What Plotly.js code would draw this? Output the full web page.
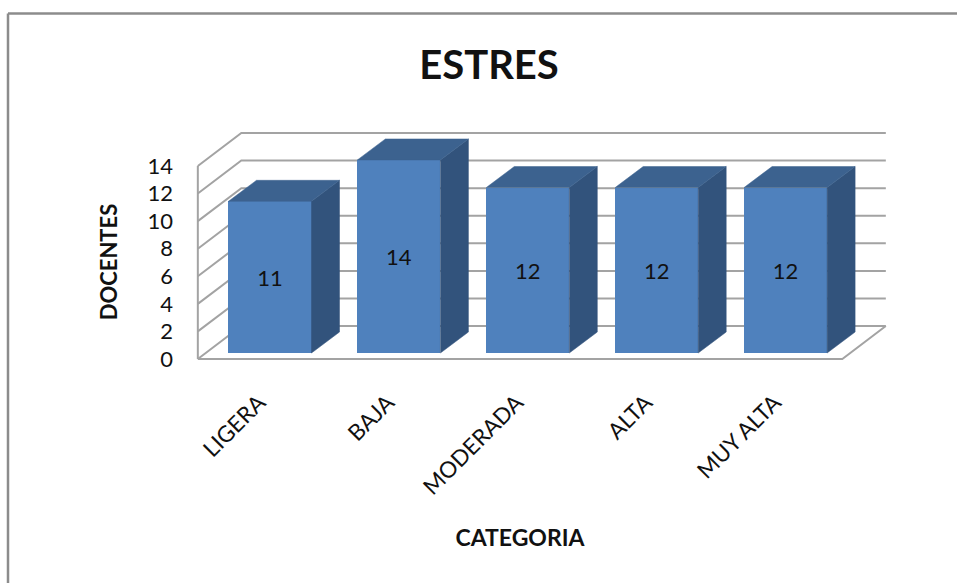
<!DOCTYPE html>
<html>
<head>
<meta charset="utf-8">
<script src="https://cdn.plot.ly/plotly-3.0.1.min.js"></script>
<style>html,body{margin:0;padding:0;background:#fff}#c{width:957px;height:583px}</style>
</head>
<body>
<div id="c"></div>
<script>
const categories = ["LIGERA","BAJA","MODERADA","ALTA","MUY ALTA"];
const docentes = [11,14,12,12,12];
const gridTicks = [0,2,4,6,8,10,12,14];

const W = 957, H = 583;
const m = {l:150, r:67, t:125, b:184};
const pxX = 128.9, pxY = 13.79;           // pixels per category / per unit
const xMin = (m.l - 270) / pxX, xMax = (W - m.r - 270) / pxX;
const yMin = -(H - m.b - 359) / pxY, yMax = (359 - m.t) / pxY;
const wallL = -0.56, floorW = 5;          // floor left edge and width, category units
const wallDx = 0.3375, wallDy = 2.39;     // depth of the chart box
const barDx = 28 / pxX, barDy = 21 / pxY; // depth of a bar
const barW = 0.644;
const barLift = 0.435;                    // bars stand in front of the axis baseline
const labelShift = 11 / pxX;              // tick labels sit left of the bar centres
const grid = '#a3a3a3', ink = '#111';
const font = 'Lato, "Open Sans", sans-serif';

const traces = [];
gridTicks.forEach(v => traces.push({
  type:'scatter', mode:'lines', showlegend:false, hoverinfo:'skip',
  x:[wallL, wallL+wallDx, wallL+floorW+wallDx],
  y:[v, v+wallDy, v+wallDy],
  line:{color:grid, width:2}
}));
traces.push({type:'scatter', mode:'lines', showlegend:false, hoverinfo:'skip',
  x:[wallL, wallL], y:[0, gridTicks[gridTicks.length-1]], line:{color:grid, width:2}});
traces.push({type:'scatter', mode:'lines', showlegend:false, hoverinfo:'skip',
  x:[wallL, wallL+floorW, wallL+floorW+wallDx], y:[0,0,wallDy], line:{color:grid, width:2}});

docentes.forEach((v,i) => {
  const a = i - barW/2, b = i + barW/2;
  traces.push({type:'scatter', mode:'lines', yaxis:'y2', showlegend:false, hoverinfo:'skip',
    x:[b, b+barDx, b+barDx, b, b], y:[0, barDy, v+barDy, v, 0],
    fill:'toself', fillcolor:'#32537c', line:{color:'#32537c', width:0.5}});
  traces.push({type:'scatter', mode:'lines', yaxis:'y2', showlegend:false, hoverinfo:'skip',
    x:[a, b, b+barDx, a+barDx, a], y:[v, v, v+barDy, v+barDy, v],
    fill:'toself', fillcolor:'#3c628f', line:{color:'#3c628f', width:0.5}});
});
traces.push({type:'bar', yaxis:'y2', showlegend:false,
  x:categories.map((c,i)=>i), y:docentes, width:barW,
  marker:{color:'#4f81bd', line:{width:0}},
  text:docentes.map(String), textposition:'inside', insidetextanchor:'middle', textangle:0,
  textfont:{family:font, size:22, color:ink}
});

const px = (x) => (x - m.l) / (W - m.l - m.r);
const py = (y) => 1 - (y - m.t) / (H - m.t - m.b);
const frame = {color:'#8c8c8c', width:2.5};

Plotly.newPlot('c', traces, {
  width:W, height:H, paper_bgcolor:'#fff', plot_bgcolor:'rgba(0,0,0,0)',
  margin:m, showlegend:false,
  title:{text:'<b>ESTRES</b>', font:{family:font, size:40, color:ink}, xref:'container', x:489/W,
    xanchor:'center', yref:'container', y:1-65/H, yanchor:'middle', automargin:false},
  xaxis:{range:[xMin,xMax], showgrid:false, zeroline:false, showline:false,
    tickmode:'array', tickvals:categories.map((c,i)=>i-labelShift), ticktext:categories,
    tickangle:-45, ticklen:0, ticklabelstandoff:-15, ticks:'',
    tickfont:{family:font, size:22.5, color:ink},
    title:{text:'<b>CATEGORIA</b>', font:{family:font, size:23, color:ink}, standoff:31}},
  yaxis:{range:[yMin,yMax], showgrid:false, zeroline:false, showline:false,
    anchor:'free', position:px(190),
    tickmode:'array', tickvals:gridTicks, ticks:'', ticklabelstandoff:17,
    tickfont:{family:font, size:22, color:ink},
    title:{text:'<b>DOCENTES</b>', font:{family:font, size:22, color:ink}, standoff:22}},
  yaxis2:{range:[yMin-barLift,yMax-barLift], overlaying:'y', anchor:'x', visible:false},
  bargap:0,
  shapes:[
    {type:'line', xref:'paper', yref:'paper', x0:px(8), x1:px(8), y0:py(13.5), y1:py(H), line:frame},
    {type:'line', xref:'paper', yref:'paper', x0:px(8), x1:px(W), y0:py(13.5), y1:py(13.5), line:frame}
  ]
}, {displayModeBar:false, staticPlot:true});
</script>
</body>
</html>
